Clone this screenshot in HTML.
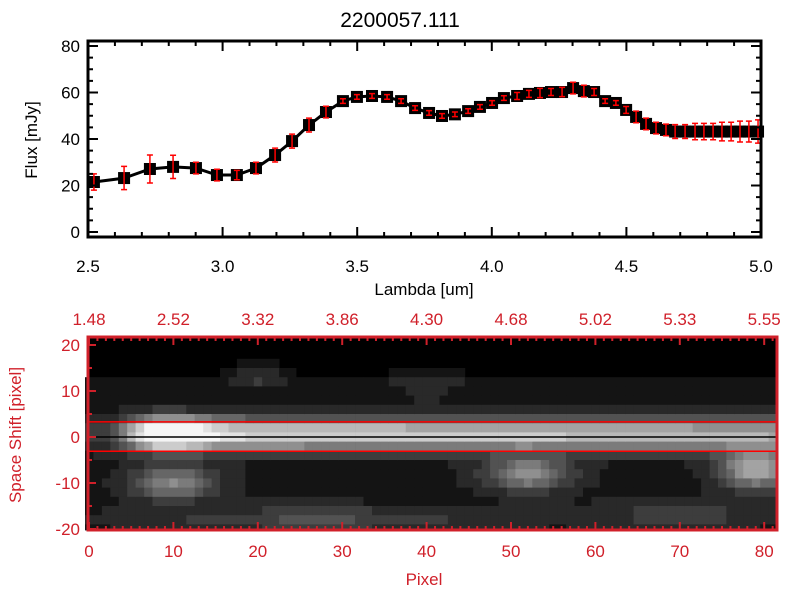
<!DOCTYPE html>
<html><head><meta charset="utf-8"><style>
body{margin:0;background:#fff;}
svg text{font-family:"Liberation Sans",sans-serif;}
</style></head><body>
<svg id="c" width="800" height="600" xmlns="http://www.w3.org/2000/svg">
<rect width="800" height="600" fill="#fff"/>
<text x="400" y="27" text-anchor="middle" font-size="21">2200057.111</text>
<g id="top"></g>
<g id="bot"></g>
</svg>
<script>
const lambda=[2.522,2.634,2.730,2.816,2.901,2.979,3.053,3.124,3.195,3.258,3.321,3.384,3.447,3.499,3.555,3.611,3.663,3.715,3.767,3.815,3.863,3.912,3.956,4.001,4.045,4.094,4.138,4.179,4.220,4.261,4.302,4.342,4.380,4.421,4.461,4.499,4.536,4.573,4.610,4.647,4.681,4.718,4.755,4.788,4.822,4.855,4.889,4.922,4.955,4.989];
const flux=[21.5,23.2,27.1,28.0,27.5,24.5,24.5,27.5,33.1,39.1,46.0,51.6,56.3,58.1,58.5,58.1,56.3,53.3,51.2,49.9,50.6,52.0,53.8,55.5,57.6,58.5,59.4,59.8,60.2,60.2,61.9,60.6,60.2,56.3,55.5,52.5,49.5,46.5,44.7,43.9,43.2,43.2,43.2,43.2,43.2,43.2,43.2,43.2,43.2,43.2];
const fluxErr=[3.5,5,6,5,2.5,2.5,2,2.5,3,3,3,2.5,1,1,1,1,1,1,1,1,1,1,1,1,1,1.5,1.5,2,1.5,2,2.5,2.5,1.5,1,1,1.5,2.5,2.5,2.5,2.5,3,3,3.5,3.5,3.5,4,4,4.5,4.5,5];
const xTicks=["2.5","3.0","3.5","4.0","4.5","5.0"];
const yTicks=["0","20","40","60","80"];
const pixTicks=["0","10","20","30","40","50","60","70","80"];
const topLamTicks=["1.48","2.52","3.32","3.86","4.30","4.68","5.02","5.33","5.55"];
const shiftTicks=["-20","-10","0","10","20"];
// blobs: [pixel x, shift y, sigmaX, sigmaY, amplitude]
const blobX=[9,10,52,79,20,40,27,70];
const blobY=[1,-10,-8,-7,13,12,-18,-17];
const blobSX=[4,3.5,3.5,3,3,4,14,8];
const blobSY=[2.5,2.5,2.5,3,2,2,2,2];
const blobA=[0.4,0.45,0.5,0.6,0.18,0.15,0.2,0.15];

const NS="http://www.w3.org/2000/svg";
function el(p,t,a){const e=document.createElementNS(NS,t);for(const k in a)e.setAttribute(k,a[k]);p.appendChild(e);return e;}
// ---- top panel
const T=document.getElementById('top');
const X0=88,X1=761,Y0=232,Y1=46;
const sx=v=>X0+(v-2.5)/2.5*(X1-X0);
const sy=v=>Y0-(v)/80*(Y0-Y1);
let pts=lambda.map((l,i)=>sx(l).toFixed(1)+','+sy(flux[i]).toFixed(1)).join(' ');
let ln=el(T,'polyline',{points:pts,fill:'none',stroke:'#000','stroke-width':3});


lambda.forEach((l,i)=>{
 const x=sx(l),y=sy(flux[i]);
 let r=el(T,'rect',{x:x-6,y:y-6,width:12,height:12,fill:'#000'});
 
 
 const e1=sy(flux[i]+fluxErr[i]),e2=sy(flux[i]-fluxErr[i]);
 let g=el(T,'path',{d:`M${x},${e1}V${e2}M${x-3},${e1}h6M${x-3},${e2}h6`,stroke:'#f00','stroke-width':1.5,fill:'none'});
 
 
});
let fr=el(T,'rect',{x:X0,y:Y1-5,width:X1-X0,height:Y0-Y1+10,fill:'none',stroke:'#000','stroke-width':3});


const FT=Y1-5,FB=Y0+5;
for(let k=0;k<=25;k++){const v=2.5+k*0.1,x=sx(v),L=k%5==0?10:5;
 el(T,'path',{d:`M${x},${FB}v${-L}M${x},${FT}v${L}`,stroke:'#000','stroke-width':2});}
for(let k=0;k<=16;k++){const y=sy(k*5),L=k%4==0?10:5;
 el(T,'path',{d:`M${X0},${y}h${L}M${X1},${y}h${-L}`,stroke:'#000','stroke-width':2});}
xTicks.forEach(t=>{let e=el(T,'text',{x:sx(+t),y:272,'text-anchor':'middle','font-size':17});e.textContent=t;
 });
yTicks.forEach(t=>{let e=el(T,'text',{x:80,y:sy(+t)+6,'text-anchor':'end','font-size':17});e.textContent=t;
 });
let xt=el(T,'text',{x:424,y:295,'text-anchor':'middle','font-size':17});xt.textContent='Lambda [um]';

let yt=el(T,'text',{x:0,y:0,'text-anchor':'middle','font-size':17,transform:'translate(37,140) rotate(-90)'});yt.textContent='Flux [mJy]';

// ---- bottom panel
const B=document.getElementById('bot');
const RED='#d0202a';
const PX0=89,PXS=8.44,SY0=437,SYS=4.6;
const px=v=>PX0+v*PXS, py=v=>SY0-v*SYS;
const IL=88,IR=777,IT=337,IB=530;
el(B,'rect',{x:IL,y:IT,width:IR-IL,height:IB-IT,fill:'#000'});
for(let c=0;c<82;c++){
 for(let r=0;r<22;r++){
  const xv=c, yv=21-r*2-1;
  let amp=xv<3?0.1:xv<8?0.1+0.15*(xv-3):xv<14?0.9:xv<60?0.78-0.08*(xv-14)/46:0.7-0.12*(xv-60)/22;
  let v=amp*Math.exp(-((yv-0.5)**2)/(2*2.4*2.4));
  blobX.forEach((bx,i)=>{v+=blobA[i]*Math.exp(-((xv-bx)**2)/(2*blobSX[i]**2)-((yv-blobY[i])**2)/(2*blobSY[i]**2));});
  if(yv<9&&yv>-22)v+=0.1;
  if(yv>=9&&yv<13)v+=0.05;
  v=Math.min(1,v);
  const q=Math.round(v*12)/12;
  if(q<=0)continue;
  const g=Math.round(q*245);
  const y0=Math.max(IT,py(yv+1)), y1=Math.min(IB,py(yv-1));
  let cell=el(B,'rect',{x:(PX0-4+c*PXS).toFixed(1),y:y0.toFixed(1),width:(PXS+0.4).toFixed(1),height:(y1-y0+0.4).toFixed(1),fill:`rgb(${g},${g},${g})`});
  
  
 }
}
el(B,'path',{d:`M${IL},${SY0}H${IR}`,stroke:'#000','stroke-width':1.5});
el(B,'path',{d:`M${IL},${py(3.3)}H${IR}M${IL},${py(-3.1)}H${IR}`,stroke:'#f00','stroke-width':1.5});
let bf=el(B,'rect',{x:IL,y:IT,width:IR-IL,height:IB-IT,fill:'none',stroke:RED,'stroke-width':3});


for(let k=0;k<=81;k++){const x=px(k),L=k%10==0?8:4;
 el(B,'path',{d:`M${x},${IB}v${-L}M${x},${IT}v${L}`,stroke:RED,'stroke-width':2});}
for(let k=-4;k<=4;k++){const y=py(k*5),L=k%2==0?8:4;
 el(B,'path',{d:`M${IL},${y}h${L}`,stroke:RED,'stroke-width':2});}
pixTicks.forEach(t=>{let e=el(B,'text',{x:px(+t),y:557,'text-anchor':'middle','font-size':17,fill:RED});e.textContent=t;
 });
topLamTicks.forEach((t,i)=>{let e=el(B,'text',{x:px(i*10),y:325,'text-anchor':'middle','font-size':17,fill:RED});e.textContent=t;
 });
shiftTicks.forEach(t=>{let e=el(B,'text',{x:80,y:py(+t)+6,'text-anchor':'end','font-size':17,fill:RED});e.textContent=t;
 });
let bx=el(B,'text',{x:424,y:585,'text-anchor':'middle','font-size':17,fill:RED});bx.textContent='Pixel';

let by=el(B,'text',{x:0,y:0,'text-anchor':'middle','font-size':17,fill:RED,transform:'translate(21,435) rotate(-90)'});by.textContent='Space Shift [pixel]';

</script>
</body></html>
